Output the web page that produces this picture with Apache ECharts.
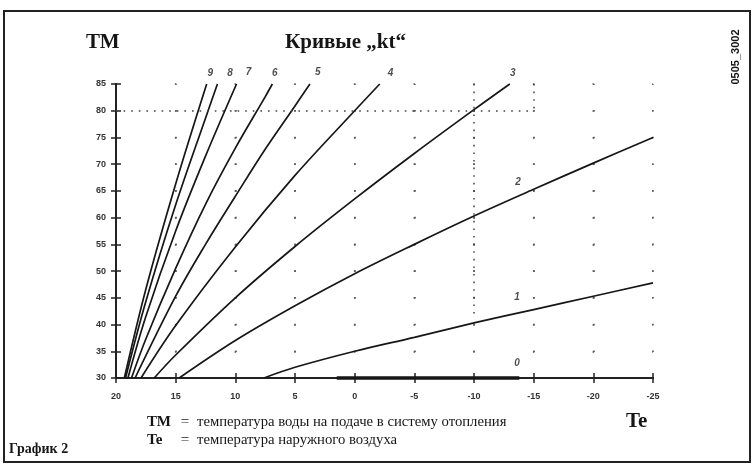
<!DOCTYPE html>
<html>
<head>
<meta charset="utf-8">
<script src="https://cdn.jsdelivr.net/npm/echarts@6/dist/echarts.min.js"></script>
<style>
html,body{margin:0;padding:0;background:#fff;}
#chart{width:752px;height:468px;}
</style>
</head>
<body>
<div id="chart"></div>
<script>
// Tick values
const teTicks = [20, 15, 10, 5, 0, -5, -10, -15, -20, -25];
const tmTicks = [30, 35, 40, 45, 50, 55, 60, 65, 70, 75, 80, 85];

// Curves [Te, TM]
const curve0 = [[1.5, 30], [-13.8, 30]];
const curve1 = [[7.6, 30], [5, 32], [0, 35], [-5, 37.6], [-10, 40.3], [-15, 42.8], [-20, 45.3], [-25, 47.8]];
const curve2 = [[14.7, 30], [10, 37], [5, 43.5], [0, 49.5], [-5, 55], [-10, 60.3], [-15, 65.3], [-20, 70.2], [-25, 75]];
const curve3 = [[16.8, 30], [15, 34.3], [10, 45], [5, 54.6], [0, 63.5], [-5, 72], [-10, 80.2], [-13, 85]];
const curve4 = [[17.9, 30], [15, 39.8], [10, 54.5], [5, 67.9], [0, 80], [-2.1, 85]];
const curve5 = [[18.4, 30], [15, 45.3], [12.5, 55], [10, 64], [7.5, 72.8], [5, 80.9], [3.75, 85]];
const curve6 = [[18.7, 30], [17.5, 37.3], [15, 50.5], [12.5, 62.5], [10, 73], [7.5, 82.6], [6.9, 85]];
const curve7 = [[19.0, 30], [17.5, 41.5], [15, 57.5], [12.5, 71.5], [9.9, 85]];
const curve8 = [[19.2, 30], [17.5, 44.3], [15, 62.4], [12.5, 78.6], [11.5, 85]];
const curve9 = [[19.3, 30], [17.5, 46.6], [15, 66.3], [12.4, 85]];

// Curve labels [Te, TM, text]
const curveLabels = [
  [12.1, 87.0, '9'], [10.45, 87.0, '8'], [8.9, 87.2, '7'], [6.7, 87.0, '6'], [3.1, 87.2, '5'],
  [-3.0, 87.0, '4'], [-13.25, 87.0, '3'], [-13.7, 66.7, '2'], [-13.6, 45.1, '1'], [-13.6, 32.8, '0']
];

// Dotted guide lines [[Te1, TM1], [Te2, TM2]]
const guideLines = [
  [[20, 80], [-15, 80]],
  [[-10, 85], [-10, 41]],
  [[-15, 85], [-15, 80]]
];

const curves = [curve0, curve1, curve2, curve3, curve4, curve5, curve6, curve7, curve8, curve9];

const chart = echarts.init(document.getElementById('chart'));
const ink = '#161616';
const serif = '"Liberation Serif", "DejaVu Serif", serif';
const sans = '"Liberation Sans", Arial, sans-serif';

const gridW = 537, gridH = 294;
const xStep = gridW / (teTicks.length - 1);
const yStep = gridH / (tmTicks.length - 1);

const tickStyle = { color: '#222', width: 1.5 };

const baseX = {
  type: 'value', position: 'bottom', inverse: true, min: -25, max: 20, interval: 5,
  axisLine: { show: true, onZero: false, lineStyle: { color: '#222', width: 2 } },
  axisLabel: { show: true, margin: 14, fontSize: 9, color: '#333', fontFamily: sans, fontWeight: 'bold' },
  axisTick: { show: true, length: 5, lineStyle: tickStyle },
  splitLine: { show: true, lineStyle: { color: '#555', width: 1.6, type: [1.6, yStep - 1.6], dashOffset: 0.8 } }
};
const baseY = {
  type: 'value', position: 'left', min: 30, max: 85, interval: 5,
  axisLine: { show: true, onZero: false, lineStyle: { color: '#222', width: 2 } },
  axisLabel: { show: true, margin: 10, fontSize: 9, color: '#333', fontFamily: sans, fontWeight: 'bold' },
  axisTick: { show: true, length: 5, lineStyle: tickStyle },
  splitLine: { show: true, lineStyle: { color: '#555', width: 1.6, type: [1.6, xStep - 1.6], dashOffset: 0.8 } }
};

const series = curves.map((c, i) => ({
  type: 'line',
  data: c,
  smooth: i === 0 ? false : 0.35,
  symbol: 'none',
  clip: false,
  lineStyle: { color: ink, width: i === 0 ? 3.5 : 1.7 },
  z: 3
}));

series[0].markLine = {
  silent: true,
  symbol: 'none',
  label: { show: false },
  lineStyle: { color: '#444', width: 1.5, type: [1.6, 6] },
  data: guideLines.map(g => [{ coord: g[0] }, { coord: g[1] }])
};

series.push({
  type: 'scatter',
  data: curveLabels.map(l => ({ value: [l[0], l[1]], name: l[2] })),
  symbolSize: 0,
  clip: false,
  silent: true,
  label: {
    show: true, position: 'inside', formatter: p => p.name,
    fontSize: 10, fontStyle: 'italic', fontWeight: 'bold', color: '#222', fontFamily: sans
  },
  z: 4
});

const option = {
  backgroundColor: '#fff',
  animation: false,
  grid: { left: 116, right: 99, top: 84, bottom: 90, containLabel: false },
  xAxis: [
    baseX,
    Object.assign({}, baseX, { axisLabel: { show: false }, splitLine: { show: false }, axisTick: { show: true, inside: true, length: 5, lineStyle: tickStyle } })
  ],
  yAxis: [
    baseY,
    Object.assign({}, baseY, { axisLabel: { show: false }, splitLine: { show: false }, axisTick: { show: true, inside: true, length: 5, lineStyle: tickStyle } })
  ],
  series: series,
  graphic: [
    { type: 'rect', shape: { x: 4, y: 11, width: 746, height: 451 }, style: { fill: 'none', stroke: '#222', lineWidth: 2 }, silent: true, z: 0 },
    { type: 'text', style: { text: 'ТМ', x: 86, y: 43, font: 'bold 21px ' + serif, fill: ink, textVerticalAlign: 'middle' } },
    { type: 'text', style: { text: 'Кривые „kt“', x: 285, y: 43, font: 'bold 21px ' + serif, fill: ink, textVerticalAlign: 'middle' } },
    { type: 'text', style: { text: 'ТМ', x: 147, y: 422, font: 'bold 15px ' + serif, fill: ink, textVerticalAlign: 'middle' } },
    { type: 'text', style: { text: '=', x: 185, y: 422, font: '15px ' + serif, fill: ink, textVerticalAlign: 'middle', textAlign: 'center' } },
    { type: 'text', style: { text: 'температура воды на подаче в систему отопления', x: 197, y: 422, font: '14.7px ' + serif, fill: ink, textVerticalAlign: 'middle' } },
    { type: 'text', style: { text: 'Te', x: 626, y: 422, font: 'bold 21px ' + serif, fill: ink, textVerticalAlign: 'middle' } },
    { type: 'text', style: { text: 'Te', x: 147, y: 440, font: 'bold 15px ' + serif, fill: ink, textVerticalAlign: 'middle' } },
    { type: 'text', style: { text: '=', x: 185, y: 440, font: '15px ' + serif, fill: ink, textVerticalAlign: 'middle', textAlign: 'center' } },
    { type: 'text', style: { text: 'температура наружного воздуха', x: 197, y: 440, font: '14.7px ' + serif, fill: ink, textVerticalAlign: 'middle' } },
    { type: 'text', style: { text: 'График 2', x: 9, y: 449, font: 'bold 14px ' + serif, fill: ink, textVerticalAlign: 'middle' } },
    { type: 'text', rotation: Math.PI / 2, x: 736, y: 57, style: { text: '0505_3002', x: 0, y: 0, font: 'bold 11px ' + sans, fill: ink, textVerticalAlign: 'middle', textAlign: 'center' } }
  ]
};
chart.setOption(option);
</script>
</body>
</html>
